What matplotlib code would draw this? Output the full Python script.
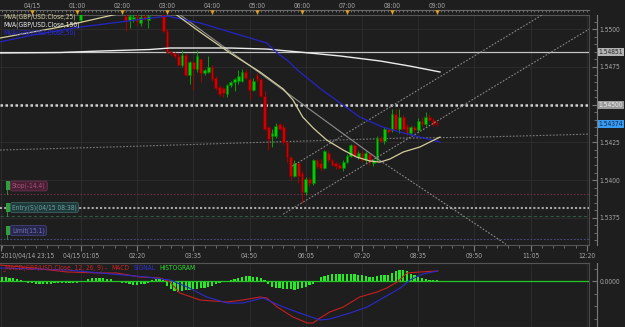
import numpy as np
import matplotlib
matplotlib.use('Agg')
import matplotlib.pyplot as plt
import matplotlib.ticker as tck
from matplotlib import font_manager
from matplotlib.font_manager import FontProperties
from matplotlib.patches import Rectangle
from matplotlib.lines import Line2D
from matplotlib.transforms import blended_transform_factory

# narrow font if one is installed, like the chart's small pixel font
narrow = None
for key in ('LiberationSansNarrow-Regular', 'DejaVuSansCondensed.ttf'):
    for f in font_manager.fontManager.ttflist:
        if key in f.fname:
            narrow = f.fname
            break
    if narrow:
        break
FS = 4.8 if narrow else 4.3
fp = FontProperties(fname=narrow, size=FS) if narrow else FontProperties(family='Liberation Sans', size=FS)

# x unit: minutes after 2010/04/15 00:00, 5 minute bars
bar_start = 65
nan = np.nan
opens = [1.5506] + [nan]*11 + [
    1.5509, 1.5506, 1.5507, 1.5509, 1.5504, 1.5509, 1.5506, nan, nan, nan,
    1.5510, 1.5499, 1.5485, 1.5484, 1.5482, 1.5476, 1.5483, 1.5470, 1.5478, 1.5474,
    1.5480, 1.5471, 1.5472, 1.5475, 1.5468, 1.5462, 1.5461, 1.5457, 1.5463, 1.5465,
    1.5466, 1.5466, 1.5472, 1.5467, 1.5460, 1.5470, 1.5467, 1.5456, 1.5435, 1.5429,
    1.5429, 1.5437, 1.5435, 1.5425, 1.5415, 1.5403, 1.5411, 1.5405, 1.5392, 1.5401,
    1.5398, 1.5413, 1.5411, 1.5408, 1.5418, 1.5413, 1.5411, 1.5410, 1.5408, 1.5412,
    1.5416, 1.5423, 1.5415, 1.5418, 1.5413, 1.5417, 1.5411, 1.5413, 1.5428, 1.5426,
    1.5434, 1.5433, 1.5444, 1.5434, 1.5442, 1.5436, 1.5431, 1.5435, 1.5433, 1.5439,
    1.5437, 1.5442, 1.5440, 1.5438]
highs = [1.5515] + [nan]*11 + [
    1.5511, 1.5511, 1.5510, 1.5511, 1.5510, 1.5511, 1.5511, nan, nan, nan,
    1.5512, 1.5500, 1.5486, 1.5485, 1.5484, 1.5486, 1.5484, 1.5479, 1.5479, 1.5486,
    1.5481, 1.5474, 1.5482, 1.5476, 1.5469, 1.5463, 1.5462, 1.5464, 1.5466, 1.5468,
    1.5473, 1.5474, 1.5474, 1.5468, 1.5468, 1.5471, 1.5468, 1.5459, 1.5436, 1.5434,
    1.5438, 1.5438, 1.5437, 1.5426, 1.5416, 1.5413, 1.5412, 1.5406, 1.5402, 1.5402,
    1.5414, 1.5414, 1.5414, 1.5420, 1.5419, 1.5414, 1.5412, 1.5411, 1.5413, 1.5417,
    1.5424, 1.5424, 1.5419, 1.5419, 1.5419, 1.5418, 1.5414, 1.5429, 1.5429, 1.5435,
    1.5435, 1.5447, 1.5447, 1.5447, 1.5443, 1.5437, 1.5436, 1.5436, 1.5441, 1.5442,
    1.5445, 1.5444, 1.5441, 1.5439]
lows = [1.5505] + [nan]*11 + [
    1.5499, 1.5501, 1.5505, 1.5503, 1.5502, 1.5506, 1.5501, nan, nan, nan,
    1.5498, 1.5484, 1.5483, 1.5481, 1.5476, 1.5475, 1.5469, 1.5464, 1.5460, 1.5472,
    1.5465, 1.5470, 1.5471, 1.5466, 1.5460, 1.5456, 1.5455, 1.5455, 1.5462, 1.5459,
    1.5464, 1.5465, 1.5467, 1.5454, 1.5459, 1.5466, 1.5455, 1.5433, 1.5420, 1.5422,
    1.5428, 1.5433, 1.5424, 1.5412, 1.5400, 1.5402, 1.5398, 1.5385, 1.5390, 1.5396,
    1.5397, 1.5408, 1.5406, 1.5407, 1.5412, 1.5409, 1.5407, 1.5407, 1.5406, 1.5411,
    1.5415, 1.5415, 1.5414, 1.5412, 1.5411, 1.5410, 1.5409, 1.5412, 1.5425, 1.5424,
    1.5431, 1.5432, 1.5433, 1.5431, 1.5433, 1.5430, 1.5430, 1.5432, 1.5432, 1.5436,
    1.5436, 1.5439, 1.5436, 1.5436]
closes = [1.5513] + [nan]*11 + [
    1.5506, 1.5509, 1.5508, 1.5505, 1.5508, 1.5507, 1.5509, nan, nan, nan,
    1.5499, 1.5485, 1.5484, 1.5482, 1.5476, 1.5483, 1.5470, 1.5478, 1.5474, 1.5482,
    1.5471, 1.5473, 1.5475, 1.5467, 1.5461, 1.5457, 1.5458, 1.5463, 1.5465, 1.5467,
    1.5469, 1.5472, 1.5468, 1.5460, 1.5466, 1.5467, 1.5456, 1.5434, 1.5427, 1.5431,
    1.5436, 1.5434, 1.5425, 1.5415, 1.5403, 1.5411, 1.5403, 1.5392, 1.5401, 1.5398,
    1.5413, 1.5409, 1.5408, 1.5419, 1.5413, 1.5410, 1.5409, 1.5408, 1.5412, 1.5416,
    1.5423, 1.5416, 1.5418, 1.5413, 1.5418, 1.5412, 1.5413, 1.5428, 1.5426, 1.5434,
    1.5432, 1.5444, 1.5434, 1.5442, 1.5434, 1.5431, 1.5435, 1.5433, 1.5439, 1.5437,
    1.5442, 1.5440, 1.5437, 1.54374]

# moving averages (time, price)
mva25_t = [-43, 37, 108, 144, 177, 193, 224, 264, 304, 335, 348, 361, 375, 393, 415, 433, 451, 464, 477, 495, 517, 544]
mva25_p = [1.54942, 1.55015, 1.55095, 1.55128, 1.55128, 1.55095, 1.54982, 1.54843, 1.54717, 1.54604, 1.54531,
           1.54418, 1.54345, 1.54265, 1.54199, 1.54152, 1.54126, 1.54119, 1.54139, 1.54186, 1.54219, 1.54285]
mva150_t = [-43, 37, 91, 157, 184, 264, 313, 357, 411, 464, 504, 544]
mva150_p = [1.54843, 1.54846, 1.54856, 1.54866, 1.54876, 1.54876, 1.54869, 1.54849, 1.54823, 1.54790, 1.54756, 1.54717]
mva50_t = [-43, 1, 64, 117, 180, 224, 264, 313, 327, 340, 357, 387, 411, 437, 468, 491, 517, 544]
mva50_p = [1.54916, 1.54962, 1.55015, 1.55048, 1.55088, 1.55042, 1.54982, 1.54909, 1.54843, 1.54796, 1.54717,
           1.54597, 1.54511, 1.54418, 1.54351, 1.54318, 1.54285, 1.54252]

# drawn studies
trend_t = [196, 464, 632]
trend_p = [1.55101, 1.54129, 1.53574]
chan_a_t = [347, 680]
chan_a_p = [1.54092, 1.55095]
chan_b_t = [335, 743]
chan_b_p = [1.53774, 1.55002]
slow_t = [-43, 104, 317, 491, 597, 695, 743]
slow_p = [1.54199, 1.54219, 1.54252, 1.54278, 1.54285, 1.54298, 1.54305]

level_high = 1.54851
level_round = 1.54500
last_price = 1.54374
stop_price = 1.53906
entry_price = 1.53815
mid_price = 1.53760
limit_price = 1.53611

# MACD (pips)
macd_t = [-43, 1, 47, 91, 113, 144, 171, 184, 197, 224, 260, 281, 304, 313, 327, 348, 367, 375, 384, 397, 415,
          437, 460, 473, 487, 500, 517, 541]
macd_v = [3.2, 2.6, 1.8, 1.6, 1.6, 0.8, 0.6, -0.2, -2.4, -3.8, -4.2, -3.8, -3.2, -3.4, -5.2, -7.2, -8.4, -8.4,
          -7.4, -6.2, -5.2, -3.2, -2.2, -1.4, -0.2, 1.6, 1.8, 2.0]
signal_t = [-43, 47, 91, 153, 184, 207, 233, 260, 281, 308, 335, 357, 384, 397, 424, 447, 468, 491, 504, 521, 541]
signal_v = [2.6, 2.2, 1.6, 0.8, 0.2, -1.2, -3.2, -4.4, -4.4, -3.4, -5.2, -6.4, -7.8, -7.6, -6.4, -5.2, -3.4,
            -1.4, 0.2, 1.4, 2.0]
hist_start = -40
hist_v = [0.8, 0.8, 0.6, 0.6, 0.4, 0.2, 0.0,
          -0.4, -0.4, -0.6, -0.6, -0.6, -0.6, -0.6, -0.4, -0.4, -0.4, -0.4, -0.4, -0.4, -0.4,
          -0.2, 0.0, 0.4, 0.6, 0.6, 0.6, 0.6, 0.4, 0.4,
          -0.2, -0.2, -0.4, -0.4, -0.6, -0.8, -0.8, -0.6, -0.6, -0.4,
          0.2, 0.4, 0.4, 0.2,
          -1.0, -1.6, -2.0, -2.2, -2.0, -1.8, -1.8, -1.6, -1.6, -1.4, -1.4, -1.2, -1.0,
          -0.6, -0.4, -0.2, 0.0, 0.2,
          0.4, 0.6, 0.8, 1.0, 1.0, 0.8, 0.8, 0.6, 0.2,
          -0.6, -1.2, -1.4, -1.4, -1.6, -1.6, -1.6, -1.8, -1.6, -1.4, -1.2, -0.8, -0.6, -0.2,
          0.8, 1.0, 1.2, 1.4, 1.4, 1.4, 1.4, 1.4, 1.4, 1.4, 1.2, 1.2, 1.0, 0.8, 0.8, 1.0, 1.2,
          1.2, 1.2, 1.6, 2.0, 2.2, 2.2, 2.0, 1.4, 1.2, 0.8, 0.6, 0.4, 0.2, 0.2, 0.2]

bottom_ticks = [-42, 65, 140, 215, 290, 365, 440, 515, 590, 665, 740]
bottom_labels = ['2010/04/14 23:15', '04/15 01:05', '02:20', '03:35', '04:50', '06:05', '07:20',
                 '08:35', '09:50', '11:05', '12:20']
hour_ticks = [0, 60, 120, 180, 240, 300, 360, 420, 480, 540]
hour_labels = ['04/15', '01:00', '02:00', '03:00', '04:00', '05:00', '06:00', '07:00', '08:00', '09:00']

BG = '#1e1e1e'
GRID = '#2e2e2e'
AXC = '#7a7a7a'
TXT = '#a8a8a8'
XMIN, XMAX = -42.7, 742.7

fig = plt.figure(figsize=(6.25, 3.27), dpi=100, facecolor=BG)
ax = fig.add_axes([0, 82 / 327, 589 / 625, 230 / 327], facecolor=BG)
mx = fig.add_axes([0, 0, 589 / 625, 64 / 327], facecolor=BG)

def fx(px):
    return px / 625

def fy(py):
    return 1 - py / 327

def ftext(px, py, s, color, **kw):
    return fig.text(fx(px), fy(py), s, color=color, fontproperties=fp, va='center', **kw)

# ---------------- main panel ----------------
ax.set_xlim(XMIN, XMAX)
ax.set_ylim(1.53569, 1.55095)
ax.set_xticks(bottom_ticks, labels=bottom_labels)
ax.xaxis.set_minor_locator(tck.FixedLocator(np.arange(-40, 745, 15)))
ax.get_xticklabels()[0].set_horizontalalignment('left')
ax.tick_params(axis='x', which='both', direction='out', colors=AXC, labelcolor=TXT, pad=1.5)
ax.tick_params(axis='x', which='major', length=4)
ax.tick_params(axis='x', which='minor', length=2)

price_ticks = [1.5375, 1.5400, 1.5425, 1.5450, 1.5475, 1.5500]
ax.set_yticks(price_ticks, labels=['' if abs(p - 1.5450) < 1e-9 else f'{p:.4f}' for p in price_ticks])
ax.yaxis.set_minor_locator(tck.MultipleLocator(0.0005))
ax.grid(True, which='major', color=GRID, lw=0.6)
ax.set_axisbelow(True)

for a in (ax, mx):
    a.yaxis.tick_right()
    a.spines['right'].set_position(('outward', 5.8))
    a.spines['right'].set_color(AXC)
    a.spines['left'].set_visible(False)
    a.spines['top'].set_color('#555555')
    a.spines['bottom'].set_color('#555555')
    a.tick_params(axis='y', which='both', direction='in', colors=AXC, labelcolor=TXT, pad=1.5)
    a.tick_params(axis='y', which='major', length=3.5)
    a.tick_params(axis='y', which='minor', length=2)
    a.plot([1, 1], [0, 1], transform=a.transAxes, color='#4a4a4a', lw=0.8, clip_on=False)

# top time ruler
top = ax.secondary_xaxis(1.0217)
top.set_xticks(hour_ticks, labels=hour_labels)
top.xaxis.set_minor_locator(tck.MultipleLocator(5))
top.tick_params(which='both', direction='in', colors=AXC, labelcolor=TXT, pad=1)
top.tick_params(which='major', length=3)
top.tick_params(which='minor', length=1.5)
for s in top.spines.values():
    s.set_color('#6a6a6a')
tb = blended_transform_factory(ax.transData, ax.transAxes)
ax.plot(hour_ticks, [1.013] * len(hour_ticks), 'v', color='#e2a21c', ms=3.2, mec='none',
        transform=tb, clip_on=False, zorder=6)

# horizontal levels
ax.axhline(level_high, color='#c4c4c4', lw=0.9, zorder=2)
ax.axhline(level_round, color='#d0d0d0', lw=1.8, ls=(0, (1, 1)), zorder=2)
ax.axhline(stop_price, color='#6e2c48', lw=0.8, ls=(0, (1.5, 1.5)), zorder=2)
ax.axhline(entry_price, color='#a8a8a8', lw=1.5, ls=(0, (1, 1)), zorder=2)
ax.axhline(mid_price, color='#2e5a44', lw=0.8, ls=(0, (3, 2)), zorder=2)
ax.axhline(limit_price, color='#4c4c86', lw=0.8, ls=(0, (1.5, 1.5)), zorder=2)
ax.plot(slow_t, slow_p, color='#7c7c7c', lw=0.8, ls=(0, (1.5, 1.5)), zorder=2)

# candles
o = np.array(opens); h = np.array(highs); l = np.array(lows); c = np.array(closes)
t = bar_start + 5 * np.arange(len(o))
ok = ~np.isnan(o)
up = c >= o
for mask, face, edge, wick in [(ok & up, '#00cc00', '#007a00', '#00a800'),
                               (ok & ~up, '#d00000', '#7a0000', '#b00000')]:
    ax.vlines(t[mask], l[mask], h[mask], colors=wick, lw=0.7, zorder=3)
    ax.bar(t[mask], np.maximum(np.abs(c[mask] - o[mask]), 0.00005), bottom=np.minimum(o[mask], c[mask]),
           width=3.5, color=face, edgecolor=edge, lw=0.4, zorder=4)

# studies
ax.plot(trend_t[:2], trend_p[:2], color='#8e8e8e', lw=0.8, zorder=5)
ax.plot(trend_t[1:], trend_p[1:], color='#8e8e8e', lw=0.8, ls=(0, (1.5, 1.5)), zorder=5)
ax.plot(chan_a_t, chan_a_p, color='#8a8a8a', lw=0.8, ls=(0, (1.5, 1.5)), zorder=5)
ax.plot(chan_b_t, chan_b_p, color='#8a8a8a', lw=0.8, ls=(0, (1.5, 1.5)), zorder=5)
ax.plot(mva150_t, mva150_p, color='#ececec', lw=1.0, zorder=5)
ax.plot(mva50_t, mva50_p, color='#2424c8', lw=0.9, zorder=5)
ax.plot(mva25_t, mva25_p, color='#d4cd9c', lw=0.9, zorder=6)

# right side price boxes
rb = blended_transform_factory(ax.transAxes, ax.transData)
for price, fc, tc in [(level_high, '#b4b4b4', '#2a2a2a'), (level_round, '#9a9a9a', '#ececec'),
                      (last_price, '#3a9cf0', '#0a2450')]:
    ax.text(1.0165, price, f'{price:.5f}', transform=rb, ha='left', va='center', fontproperties=fp, color=tc,
            bbox=dict(boxstyle='square,pad=0.15', fc=fc, ec='none'), clip_on=False, zorder=8)

# legend texts
ftext(3, 17, 'MVA(GBP/USD.Close,25)', '#d8d2a4')
ftext(3, 25, 'MVA(GBP/USD.Close,150)', '#f0f0f0')
ftext(3, 32.5, 'MVA(GBP/USD.Close,50)', '#2a2ae6')

# order boxes
for py, text, tc, fc, ec, ly in [(186, 'Stop(-14.4)', '#a2567a', '#4a1f34', '#6c3352', 194),
                                 (207.5, 'Entry(S)(04/15 08:38)', '#6fa0a0', '#1f3a3a', '#3e6262', 216),
                                 (230.5, 'Limit(15.1)', '#7474b4', '#26264c', '#45457a', 238.5)]:
    ftext(12, py, text, tc, ha='left',
          bbox=dict(boxstyle='round,pad=0.25,rounding_size=0.3', fc=fc, ec=ec, lw=0.6))
    fig.add_artist(Rectangle((fx(6), fy(py + 4.5)), fx(4), 9 / 327, transform=fig.transFigure,
                             fc='#2e9e3e', ec='none', zorder=9))
    fig.add_artist(Line2D([fx(7), fx(7)], [fy(py + 4.5), fy(ly)], color='#2e9e3e', lw=0.6))

# ---------------- MACD panel ----------------
mx.set_xlim(XMIN, XMAX)
mx.set_ylim(-9.2, 3.6)
mx.set_xticks(bottom_ticks)
mx.tick_params(axis='x', length=0, labelbottom=False)
mx.set_yticks([0], labels=['0.0000'])
mx.yaxis.set_minor_locator(tck.MultipleLocator(2.5))
mx.grid(True, axis='x', color=GRID, lw=0.6)
mx.set_axisbelow(True)
ht = hist_start + 5 * np.arange(len(hist_v))
mx.bar(ht, hist_v, width=3.2, color='#22ee22', zorder=2)
mx.axhline(0, color='#24c824', lw=0.9, zorder=3)
mx.plot(macd_t, macd_v, color='#c81e1e', lw=0.8, zorder=4)
mx.plot(signal_t, signal_v, color='#2a2ad0', lw=0.8, zorder=4)

for lab in (ax.get_xticklabels() + ax.get_yticklabels() + mx.get_yticklabels() + top.get_xticklabels()):
    lab.set_fontproperties(fp)

# MACD title pieces set one after another
renderer = fig.canvas.get_renderer()
x = 2
for s, col in [('_MACD(GBP/USD.Close, 12, 26, 9) -', '#d02020'), ('MACD', '#d02020'),
               ('SIGNAL', '#3030d8'), ('HISTOGRAM', '#30e030')]:
    piece = ftext(x, 268, s, col)
    x += piece.get_window_extent(renderer).width + 4

fig.savefig('out.png', dpi=100, facecolor=BG)
